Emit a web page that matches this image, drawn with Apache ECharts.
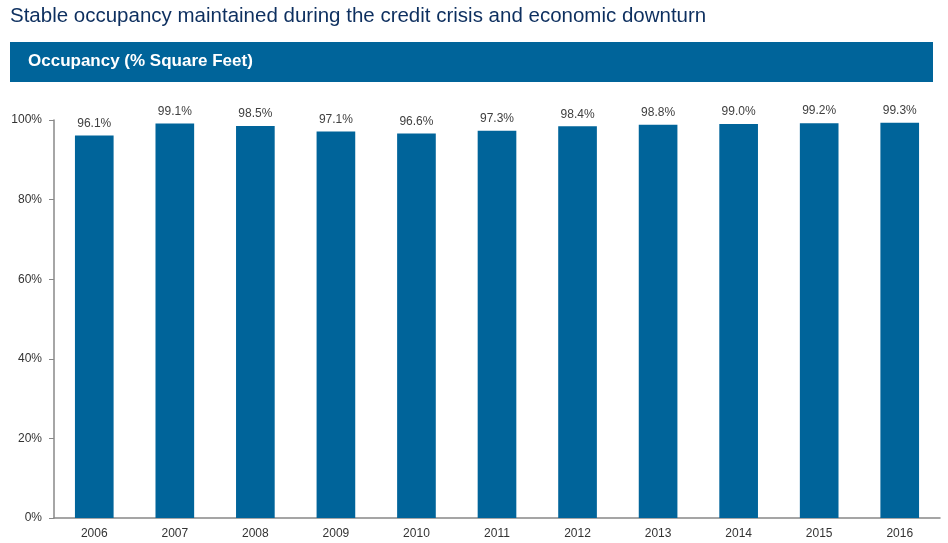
<!DOCTYPE html>
<html lang="en">
	<head>
		<meta charset="UTF-8">
		<title>Occupancy</title>
		<script src="https://cdn.jsdelivr.net/npm/echarts@6/dist/echarts.min.js"></script>
		<style type="text/css">
			html, body {
				margin: 0;
				padding: 0;
				background: #fff;
			}
			#main {
				width: 948px;
				height: 543px;
			}
		</style>
	</head>
	<body>
		<div id="main"></div>
		<script>
			// chart data
			var years = ['2006', '2007', '2008', '2009', '2010', '2011', '2012', '2013', '2014', '2015', '2016'];
			var occupancy = [96.1, 99.1, 98.5, 97.1, 96.6, 97.3, 98.4, 98.8, 99.0, 99.2, 99.3];
			var yTicks = [0, 20, 40, 60, 80, 100];

			var blue = '#00649a';
			var font = '"Liberation Sans", Arial, sans-serif';

			var myChart = echarts.init(document.getElementById('main'));

			var option = {
				backgroundColor: '#fff',
				animation: false,
				title: {
					text: 'Stable occupancy maintained during the credit crisis and economic downturn',
					left: 5,
					top: 1,
					textStyle: {
						color: '#0d2f5f',
						fontFamily: font,
						fontSize: 20.5,
						fontWeight: 'normal'
					}
				},
				graphic: [{
					type: 'rect',
					shape: { x: 10, y: 42, width: 923, height: 40 },
					style: { fill: blue }
				}, {
					type: 'text',
					left: 28,
					top: 53,
					style: {
						text: 'Occupancy (% Square Feet)',
						fill: '#fff',
						font: 'bold 17px ' + font
					}
				}],
				grid: {
					left: 54,
					right: 8,
					top: 120,
					bottom: 25,
					containLabel: false
				},
				xAxis: {
					type: 'category',
					data: years,
					axisLine: { lineStyle: { color: '#888', width: 1.5 } },
					axisTick: { show: false },
					axisLabel: {
						color: '#333',
						fontFamily: font,
						fontSize: 12,
						margin: 10
					}
				},
				yAxis: {
					type: 'value',
					min: yTicks[0],
					max: yTicks[yTicks.length - 1],
					interval: 20,
					axisLine: { show: true, lineStyle: { color: '#888', width: 1.5 } },
					axisTick: { show: true, length: 5, lineStyle: { color: '#888' } },
					splitLine: { show: false },
					axisLabel: {
						color: '#333',
						fontFamily: font,
						fontSize: 12,
						margin: 12,
						formatter: '{value}%'
					}
				},
				series: [{
					type: 'bar',
					data: occupancy,
					barWidth: '48%',
					itemStyle: { color: blue },
					label: {
						show: true,
						position: 'top',
						distance: 6,
						color: '#404040',
						fontFamily: font,
						fontSize: 12,
						formatter: function (p) {
							return p.value.toFixed(1) + '%';
						}
					}
				}]
			};

			myChart.setOption(option);
		</script>
	</body>
</html>
